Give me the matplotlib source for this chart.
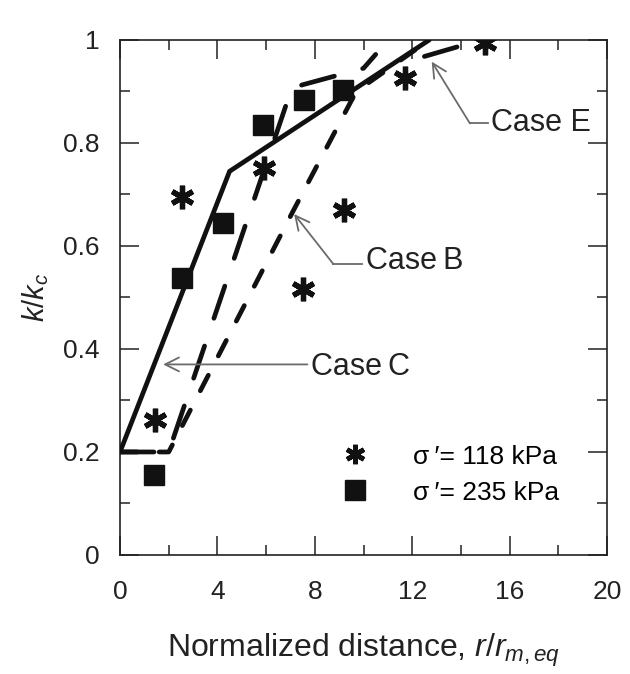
import numpy as np
import matplotlib
matplotlib.use("Agg")
import matplotlib.pyplot as plt
from matplotlib.lines import Line2D

plt.rcParams['font.family'] = ['Liberation Sans', 'DejaVu Sans']
plt.rcParams['mathtext.fontset'] = 'custom'
plt.rcParams['mathtext.rm'] = 'Liberation Sans'
plt.rcParams['mathtext.it'] = 'Liberation Sans:italic'

# measured points
x_118 = [1.45, 2.55, 5.9, 7.5, 9.2, 11.7, 15.0]
y_118 = [0.262, 0.695, 0.752, 0.517, 0.67, 0.926, 0.995]
x_235 = [1.4, 2.55, 4.23, 5.88, 7.55, 9.15]
y_235 = [0.155, 0.538, 0.645, 0.835, 0.883, 0.903]

# model curves
caseC_x = [0, 4.5, 12.7]
caseC_y = [0.2, 0.745, 1.0]
caseB_x = [0, 2.0, 7.1, 9.7, 12.7]
caseB_y = [0.2, 0.2, 0.667, 0.9, 1.0]
caseE_x = [0, 2.0, 7.05, 7.5, 10.0, 10.5, np.nan, 12.5, 14.1]
caseE_y = [0.2, 0.2, 0.906, 0.913, 0.945, 0.972, np.nan, 0.968, 0.99]

# annotation anchors: (tip, corner, text position)
ann_C = [(1.77, 0.37), (7.7, 0.37), (7.85, 0.365)]
ann_B = [(7.15, 0.662), (8.76, 0.565), (10.1, 0.57)]
ann_E = [(12.8, 0.958), (14.37, 0.838), (15.25, 0.838)]

fig = plt.figure(figsize=(6.3, 6.74), dpi=100)
ax = fig.add_axes([0.1905, 0.1766, 0.773, 0.7641])

lw = 3.4
ax.plot(caseC_x, caseC_y, color='#111111', lw=lw, solid_capstyle='round',
        solid_joinstyle='miter', zorder=3)
ax.plot(caseB_x, caseB_y, color='#111111', lw=lw, dashes=(3.7, 4.6),
        dash_capstyle='round', zorder=3)
ax.plot(caseE_x, caseE_y, color='#111111', lw=lw, dashes=(7.2, 6.2),
        dash_capstyle='round', zorder=3)

ast = (6, 2, 0)
ax.plot(x_118, y_118, ls='none', marker=ast, ms=17, mew=3.8, color='#111111', zorder=4)
ax.plot(x_235, y_235, ls='none', marker='s', ms=15, color='#111111', zorder=4)

acol = '#6b6b6b'
for tip, corner, txt, label in [(ann_C[0], ann_C[1], ann_C[2], 'Case\u2009C'),
                                (ann_B[0], ann_B[1], ann_B[2], 'Case\u2009B'),
                                (ann_E[0], ann_E[1], ann_E[2], 'Case E')]:
    ax.annotate('', xy=tip, xytext=corner,
                arrowprops=dict(arrowstyle='->,head_length=1.0,head_width=0.5',
                                color=acol, lw=1.3, shrinkA=0, shrinkB=0))
    ax.plot([corner[0], txt[0] - 0.15], [corner[1], corner[1]], color=acol, lw=1.3)
    ax.text(txt[0], txt[1], label, fontsize=22, va='center', ha='left', color='#222222')

handles = [Line2D([], [], ls='none', marker=ast, ms=14, mew=3.4, color='#111111'),
           Line2D([], [], ls='none', marker='s', ms=14, color='#111111')]
ax.legend(handles, ['\u03c3\u2009\u2032= 118 kPa', '\u03c3\u2009\u2032= 235 kPa'],
          loc='center left', bbox_to_anchor=(0.455, 0.156), frameon=False,
          fontsize=19, handlelength=1.0, handletextpad=1.7, labelspacing=0.45,
          borderpad=0, borderaxespad=0)

ax.set_xlim(0, 20)
ax.set_ylim(0, 1)
ax.set_xticks([0, 4, 8, 12, 16, 20])
ax.set_xticks([2, 6, 10, 14, 18], minor=True)
ax.set_yticks([0, 0.2, 0.4, 0.6, 0.8, 1.0])
ax.set_yticklabels(['0', '0.2', '0.4', '0.6', '0.8', '1'])
ax.set_yticks([0.1, 0.3, 0.5, 0.7, 0.9], minor=True)
ax.tick_params(which='both', direction='in', top=True, right=True,
               width=1.1, labelsize=19, colors='#222222')
ax.tick_params(which='major', length=14)
ax.tick_params(axis='x', which='major', pad=18)
ax.tick_params(axis='y', which='major', pad=15)
ax.tick_params(which='minor', length=7)
for s in ax.spines.values():
    s.set_linewidth(1.2)
    s.set_color('#222222')

ax.set_xlabel('Normalized distance, $r/r_{m,eq}$', fontsize=23, labelpad=20, color='#222222')
ax.set_ylabel('$k/k_c$', fontsize=21, labelpad=8, color='#222222')

fig.savefig('out.png', dpi=100)
